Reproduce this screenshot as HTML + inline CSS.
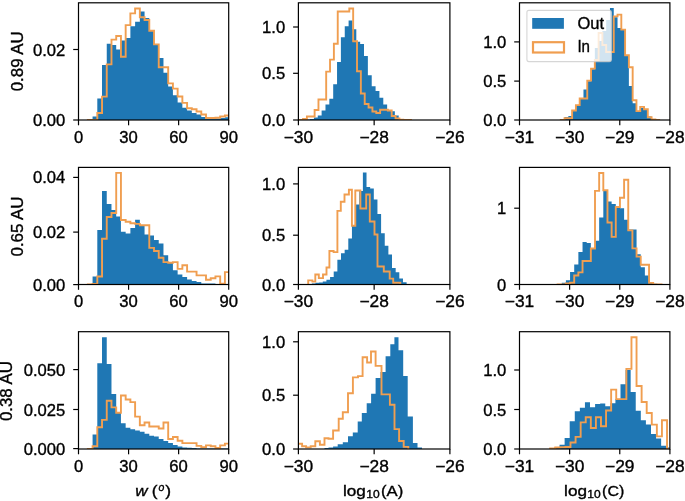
<!DOCTYPE html>
<html><head><meta charset="utf-8"><style>
html,body{margin:0;padding:0;background:#fff;overflow:hidden}
svg{display:block;will-change:transform}
text{font-family:"Liberation Sans", sans-serif;fill:#000;stroke:#000;stroke-width:0.35px}
</style></head><body>
<svg width="685" height="501" viewBox="0 0 685 501">
<rect width="685" height="501" fill="#fff"/>
<defs><clipPath id="c00"><rect x="78.5" y="2.8" width="150.20" height="117.20"/></clipPath><clipPath id="c01"><rect x="298.4" y="2.8" width="151.50" height="117.20"/></clipPath><clipPath id="c02"><rect x="519.5" y="2.8" width="150.40" height="117.20"/></clipPath><clipPath id="c10"><rect x="78.5" y="167.4" width="150.20" height="117.10"/></clipPath><clipPath id="c11"><rect x="298.4" y="167.4" width="151.50" height="117.10"/></clipPath><clipPath id="c12"><rect x="519.5" y="167.4" width="150.40" height="117.10"/></clipPath><clipPath id="c20"><rect x="78.5" y="331.7" width="150.20" height="117.30"/></clipPath><clipPath id="c21"><rect x="298.4" y="331.7" width="151.50" height="117.30"/></clipPath><clipPath id="c22"><rect x="519.5" y="331.7" width="150.40" height="117.30"/></clipPath></defs>
<g clip-path="url(#c00)"><path d="M87.85 121V119.2H92.58V121ZM92.58 121V116.4H97.3V121ZM97.3 121V98.6H102.03V121ZM102.03 121V64.9H106.75V121ZM106.75 121V43.8H111.48V121ZM111.48 121V45H116.21V121ZM116.21 121V49.6H120.93V121ZM120.93 121V40.6H125.66V121ZM125.66 121V38H130.38V121ZM130.38 121V26.2H135.11V121ZM135.11 121V21.7H139.84V121ZM139.84 121V11.5H144.56V121ZM144.56 121V18H149.29V121ZM149.29 121V30.8H154.01V121ZM154.01 121V44.5H158.74V121ZM158.74 121V58H163.47V121ZM163.47 121V72.7H168.19V121ZM168.19 121V86.5H172.92V121ZM172.92 121V95.3H177.64V121ZM177.64 121V102.6H182.37V121ZM182.37 121V107.7H187.1V121ZM187.1 121V110.6H191.82V121ZM191.82 121V113.1H196.55V121ZM196.55 121V114.4H201.27V121ZM201.27 121V116.9H206V121ZM206 121V118.6H210.73V121ZM210.73 121V118.6H215.45V121ZM215.45 121V118.6H220.18V121ZM220.18 121V118.1H224.9V121ZM224.9 121V117.3H229.63V121Z" fill="#1f77b4"/><path d="M87.85 121V120H92.58V120H97.3V113H102.03V96.6H106.75V64.4H111.48V39.6H116.21V36H120.93V56.8H125.66V25.1H130.38V13.4H135.11V8.5H139.84V17.2H144.56V20H149.29V30.7H154.01V44.4H158.74V67.2H163.47V67.2H168.19V83.4H172.92V88.6H177.64V96.5H182.37V102.9H187.1V108.3H191.82V109.3H196.55V111.5H201.27V114.5H206V118H210.73V118H215.45V117.7H220.18V116.5H224.9V115.5H229.63V121" fill="none" stroke="#f09e50" stroke-width="1.9" stroke-linejoin="miter"/></g>
<rect x="78.5" y="2.8" width="150.20" height="117.20" fill="none" stroke="#000" stroke-width="1.2"/>
<line x1="78.50" y1="120.0" x2="78.50" y2="125.30" stroke="#000" stroke-width="1.2"/>
<text x="78.50" y="142.80" font-size="16.0" text-anchor="middle" textLength="9.2" lengthAdjust="spacingAndGlyphs">0</text>
<line x1="128.57" y1="120.0" x2="128.57" y2="125.30" stroke="#000" stroke-width="1.2"/>
<text x="128.57" y="142.80" font-size="16.0" text-anchor="middle" textLength="18.5" lengthAdjust="spacingAndGlyphs">30</text>
<line x1="178.63" y1="120.0" x2="178.63" y2="125.30" stroke="#000" stroke-width="1.2"/>
<text x="178.63" y="142.80" font-size="16.0" text-anchor="middle" textLength="18.5" lengthAdjust="spacingAndGlyphs">60</text>
<line x1="228.70" y1="120.0" x2="228.70" y2="125.30" stroke="#000" stroke-width="1.2"/>
<text x="228.70" y="142.80" font-size="16.0" text-anchor="middle" textLength="18.5" lengthAdjust="spacingAndGlyphs">90</text>
<line x1="73.20" y1="120.00" x2="78.5" y2="120.00" stroke="#000" stroke-width="1.2"/>
<text x="65.30" y="126.00" font-size="16.0" text-anchor="end" textLength="32.3" lengthAdjust="spacingAndGlyphs">0.00</text>
<line x1="73.20" y1="49.50" x2="78.5" y2="49.50" stroke="#000" stroke-width="1.2"/>
<text x="65.30" y="55.50" font-size="16.0" text-anchor="end" textLength="32.3" lengthAdjust="spacingAndGlyphs">0.02</text>
<g clip-path="url(#c01)"><path d="M306.21 121V119.5H310.06V121ZM310.06 121V119H313.92V121ZM313.92 121V117.5H317.77V121ZM317.77 121V115.5H321.62V121ZM321.62 121V110.5H325.48V121ZM325.48 121V104.5H329.33V121ZM329.33 121V98.8H333.19V121ZM333.19 121V84.2H337.04V121ZM337.04 121V61.9H340.89V121ZM340.89 121V37.2H344.75V121ZM344.75 121V26.2H348.6V121ZM348.6 121V20.5H352.46V121ZM352.46 121V29.2H356.31V121ZM356.31 121V41.8H360.16V121ZM360.16 121V44.1H364.02V121ZM364.02 121V56.1H367.87V121ZM367.87 121V75.2H371.73V121ZM371.73 121V86.3H375.58V121ZM375.58 121V91H379.43V121ZM379.43 121V97.8H383.29V121ZM383.29 121V104.5H387.14V121ZM387.14 121V110H391V121ZM391 121V111.2H394.85V121ZM394.85 121V115.5H398.7V121ZM398.7 121V119H402.56V121ZM402.56 121V119.8H406.41V121Z" fill="#1f77b4"/><path d="M299.2 121V120H303.05V119H306.91V116.5H310.76V116.5H314.62V110H318.47V99.5H322.32V99.5H326.18V71.6H330.03V59.6H333.89V43.8H337.74V11.5H341.59V11.5H345.45V11.5H349.3V8.5H353.16V41.2H357.01V71.3H360.86V93.5H364.72V104H368.57V107.5H372.43V111.5H376.28V113H380.13V109.8H383.99V109.8H387.84V110.5H391.7V116H395.55V118.5H399.4V119.8H403.26V120H407.11V120H410.97V121" fill="none" stroke="#f09e50" stroke-width="1.9" stroke-linejoin="miter"/></g>
<rect x="298.4" y="2.8" width="151.50" height="117.20" fill="none" stroke="#000" stroke-width="1.2"/>
<line x1="298.40" y1="120.0" x2="298.40" y2="125.30" stroke="#000" stroke-width="1.2"/>
<text x="298.40" y="142.80" font-size="16.0" text-anchor="middle" textLength="29.4" lengthAdjust="spacingAndGlyphs">−30</text>
<line x1="374.15" y1="120.0" x2="374.15" y2="125.30" stroke="#000" stroke-width="1.2"/>
<text x="374.15" y="142.80" font-size="16.0" text-anchor="middle" textLength="29.4" lengthAdjust="spacingAndGlyphs">−28</text>
<line x1="449.90" y1="120.0" x2="449.90" y2="125.30" stroke="#000" stroke-width="1.2"/>
<text x="449.90" y="142.80" font-size="16.0" text-anchor="middle" textLength="29.4" lengthAdjust="spacingAndGlyphs">−26</text>
<line x1="293.10" y1="120.00" x2="298.4" y2="120.00" stroke="#000" stroke-width="1.2"/>
<text x="285.20" y="126.00" font-size="16.0" text-anchor="end" textLength="23.1" lengthAdjust="spacingAndGlyphs">0.0</text>
<line x1="293.10" y1="73.30" x2="298.4" y2="73.30" stroke="#000" stroke-width="1.2"/>
<text x="285.20" y="79.30" font-size="16.0" text-anchor="end" textLength="23.1" lengthAdjust="spacingAndGlyphs">0.5</text>
<line x1="293.10" y1="27.00" x2="298.4" y2="27.00" stroke="#000" stroke-width="1.2"/>
<text x="285.20" y="33.00" font-size="16.0" text-anchor="end" textLength="23.1" lengthAdjust="spacingAndGlyphs">1.0</text>
<g clip-path="url(#c02)"><path d="M560.77 121V119.5H564.55V121ZM564.55 121V117.1H568.34V121ZM568.34 121V116H572.12V121ZM572.12 121V111H575.91V121ZM575.91 121V105.7H579.69V121ZM579.69 121V99.1H583.47V121ZM583.47 121V89.5H587.26V121ZM587.26 121V81.2H591.04V121ZM591.04 121V69.2H594.83V121ZM594.83 121V48H598.61V121ZM598.61 121V41H602.39V121ZM602.39 121V31H606.18V121ZM606.18 121V20H609.96V121ZM609.96 121V8H613.75V121ZM613.75 121V17.2H617.53V121ZM617.53 121V28H621.31V121ZM621.31 121V29.8H625.1V121ZM625.1 121V55.5H628.88V121ZM628.88 121V86H632.67V121ZM632.67 121V103.3H636.45V121ZM636.45 121V111.3H640.23V121ZM640.23 121V108.1H644.02V121ZM644.02 121V109.3H647.8V121ZM647.8 121V116.5H651.59V121ZM651.59 121V119.5H655.37V121Z" fill="#1f77b4"/><path d="M560.77 121V120H564.55V118.3H568.34V118.3H572.12V110.5H575.91V105.1H579.69V98.5H583.47V98.5H587.26V80.6H591.04V68.6H594.83V60H598.61V33H602.39V45H606.18V52H609.96V52H613.75V16.4H617.53V14.6H621.31V29.6H625.1V55.3H628.88V67.2H632.67V100.3H636.45V111.1H640.23V106.9H644.02V109.3H647.8V117.3H651.59V119.5H655.37V120H659.15V121" fill="none" stroke="#f09e50" stroke-width="1.9" stroke-linejoin="miter"/></g>
<rect x="526.9" y="10.4" width="84.5" height="51.2" rx="2" ry="2" fill="#fff" fill-opacity="0.8" stroke="#ccc" stroke-opacity="0.8" stroke-width="1.1"/>
<rect x="532.2" y="18.0" width="31.7" height="10.8" fill="#1f77b4"/>
<rect x="533.0" y="42.2" width="31.0" height="10.3" fill="none" stroke="#f09e50" stroke-width="2.2"/>
<text x="577.4" y="29.2" font-size="16" textLength="26.6" lengthAdjust="spacingAndGlyphs">Out</text>
<text x="577.4" y="52.2" font-size="16" textLength="12.6" lengthAdjust="spacingAndGlyphs">In</text>
<rect x="519.5" y="2.8" width="150.40" height="117.20" fill="none" stroke="#000" stroke-width="1.2"/>
<line x1="519.50" y1="120.0" x2="519.50" y2="125.30" stroke="#000" stroke-width="1.2"/>
<text x="519.50" y="142.80" font-size="16.0" text-anchor="middle" textLength="29.4" lengthAdjust="spacingAndGlyphs">−31</text>
<line x1="569.63" y1="120.0" x2="569.63" y2="125.30" stroke="#000" stroke-width="1.2"/>
<text x="569.63" y="142.80" font-size="16.0" text-anchor="middle" textLength="29.4" lengthAdjust="spacingAndGlyphs">−30</text>
<line x1="619.77" y1="120.0" x2="619.77" y2="125.30" stroke="#000" stroke-width="1.2"/>
<text x="619.77" y="142.80" font-size="16.0" text-anchor="middle" textLength="29.4" lengthAdjust="spacingAndGlyphs">−29</text>
<line x1="669.90" y1="120.0" x2="669.90" y2="125.30" stroke="#000" stroke-width="1.2"/>
<text x="669.90" y="142.80" font-size="16.0" text-anchor="middle" textLength="29.4" lengthAdjust="spacingAndGlyphs">−28</text>
<line x1="514.20" y1="120.00" x2="519.5" y2="120.00" stroke="#000" stroke-width="1.2"/>
<text x="506.30" y="126.00" font-size="16.0" text-anchor="end" textLength="23.1" lengthAdjust="spacingAndGlyphs">0.0</text>
<line x1="514.20" y1="81.10" x2="519.5" y2="81.10" stroke="#000" stroke-width="1.2"/>
<text x="506.30" y="87.10" font-size="16.0" text-anchor="end" textLength="23.1" lengthAdjust="spacingAndGlyphs">0.5</text>
<line x1="514.20" y1="41.90" x2="519.5" y2="41.90" stroke="#000" stroke-width="1.2"/>
<text x="506.30" y="47.90" font-size="16.0" text-anchor="end" textLength="23.1" lengthAdjust="spacingAndGlyphs">1.0</text>
<g clip-path="url(#c10)"><path d="M92.58 285.5V276.5H97.3V285.5ZM97.3 285.5V230H102.03V285.5ZM102.03 285.5V191H106.75V285.5ZM106.75 285.5V204H111.48V285.5ZM111.48 285.5V210H116.21V285.5ZM116.21 285.5V216.5H120.93V285.5ZM120.93 285.5V231.8H125.66V285.5ZM125.66 285.5V233.4H130.38V285.5ZM130.38 285.5V228.1H135.11V285.5ZM135.11 285.5V219.7H139.84V285.5ZM139.84 285.5V225.5H144.56V285.5ZM144.56 285.5V234.5H149.29V285.5ZM149.29 285.5V235.6H154.01V285.5ZM154.01 285.5V239.9H158.74V285.5ZM158.74 285.5V243.6H163.47V285.5ZM163.47 285.5V255.3H168.19V285.5ZM168.19 285.5V262.5H172.92V285.5ZM172.92 285.5V270.2H177.64V285.5ZM177.64 285.5V274.5H182.37V285.5ZM182.37 285.5V277H187.1V285.5ZM187.1 285.5V279.6H191.82V285.5ZM191.82 285.5V280.9H196.55V285.5ZM196.55 285.5V282.1H201.27V285.5ZM201.27 285.5V283.6H206V285.5ZM206 285.5V283.6H210.73V285.5ZM210.73 285.5V283.6H215.45V285.5ZM215.45 285.5V284.2H220.18V285.5ZM220.18 285.5V284.2H224.9V285.5ZM224.9 285.5V284.2H229.63V285.5Z" fill="#1f77b4"/><path d="M87.85 285.5V284.5H92.58V284H97.3V276.5H102.03V238.8H106.75V217H111.48V213H116.21V172.9H120.93V220H125.66V221.8H130.38V223.2H135.11V223.9H139.84V225.3H144.56V225.3H149.29V247.9H154.01V251H158.74V257.8H163.47V262.1H168.19V262.7H172.92V262.1H177.64V268.9H182.37V265.2H187.1V271.6H191.82V271.6H196.55V275.4H201.27V275.4H206V279.8H210.73V278.3H215.45V276.4H220.18V283.6H224.9V272.1H229.63V285.5" fill="none" stroke="#f09e50" stroke-width="1.9" stroke-linejoin="miter"/></g>
<rect x="78.5" y="167.4" width="150.20" height="117.10" fill="none" stroke="#000" stroke-width="1.2"/>
<line x1="78.50" y1="284.5" x2="78.50" y2="289.80" stroke="#000" stroke-width="1.2"/>
<text x="78.50" y="307.30" font-size="16.0" text-anchor="middle" textLength="9.2" lengthAdjust="spacingAndGlyphs">0</text>
<line x1="128.57" y1="284.5" x2="128.57" y2="289.80" stroke="#000" stroke-width="1.2"/>
<text x="128.57" y="307.30" font-size="16.0" text-anchor="middle" textLength="18.5" lengthAdjust="spacingAndGlyphs">30</text>
<line x1="178.63" y1="284.5" x2="178.63" y2="289.80" stroke="#000" stroke-width="1.2"/>
<text x="178.63" y="307.30" font-size="16.0" text-anchor="middle" textLength="18.5" lengthAdjust="spacingAndGlyphs">60</text>
<line x1="228.70" y1="284.5" x2="228.70" y2="289.80" stroke="#000" stroke-width="1.2"/>
<text x="228.70" y="307.30" font-size="16.0" text-anchor="middle" textLength="18.5" lengthAdjust="spacingAndGlyphs">90</text>
<line x1="73.20" y1="284.60" x2="78.5" y2="284.60" stroke="#000" stroke-width="1.2"/>
<text x="65.30" y="290.60" font-size="16.0" text-anchor="end" textLength="32.3" lengthAdjust="spacingAndGlyphs">0.00</text>
<line x1="73.20" y1="232.10" x2="78.5" y2="232.10" stroke="#000" stroke-width="1.2"/>
<text x="65.30" y="238.10" font-size="16.0" text-anchor="end" textLength="32.3" lengthAdjust="spacingAndGlyphs">0.02</text>
<line x1="73.20" y1="177.40" x2="78.5" y2="177.40" stroke="#000" stroke-width="1.2"/>
<text x="65.30" y="183.40" font-size="16.0" text-anchor="end" textLength="32.3" lengthAdjust="spacingAndGlyphs">0.04</text>
<g clip-path="url(#c11)"><path d="M308.2 285.5V284H311.84V285.5ZM311.84 285.5V283.5H315.49V285.5ZM315.49 285.5V282.8H319.13V285.5ZM319.13 285.5V282.5H322.78V285.5ZM322.78 285.5V281.6H326.43V285.5ZM326.43 285.5V279.8H330.07V285.5ZM330.07 285.5V276.9H333.71V285.5ZM333.71 285.5V271.6H337.36V285.5ZM337.36 285.5V259.8H341V285.5ZM341 285.5V253.3H344.65V285.5ZM344.65 285.5V249.8H348.29V285.5ZM348.29 285.5V238.6H351.94V285.5ZM351.94 285.5V226H355.58V285.5ZM355.58 285.5V204.5H359.23V285.5ZM359.23 285.5V191H362.88V285.5ZM362.88 285.5V172.5H366.52V285.5ZM366.52 285.5V187H370.16V285.5ZM370.16 285.5V188.5H373.81V285.5ZM373.81 285.5V199.5H377.45V285.5ZM377.45 285.5V214H381.1V285.5ZM381.1 285.5V233.3H384.75V285.5ZM384.75 285.5V245.7H388.39V285.5ZM388.39 285.5V254.5H392.03V285.5ZM392.03 285.5V268H395.68V285.5ZM395.68 285.5V272.2H399.32V285.5ZM399.32 285.5V278.6H402.97V285.5ZM402.97 285.5V282.2H406.62V285.5ZM406.62 285.5V284H410.26V285.5Z" fill="#1f77b4"/><path d="M308.2 285.5V280.4H312.4V281.6H315.3V274.5H318.8V278.1H323V274.5H326.5V267.5H329.4V251H333.6V252.1H337.4V210.9H340.8V201.8H344.5V194.5H348.9V189.8H351.9V225.7H355.3V190.5H360.4V208.5H366.2V194.5H369.8V221.5H374.5V234.5H377.5V266.5H383.8V271.5H389.7V278.6H393.2V282.8H400.3V285.5" fill="none" stroke="#f09e50" stroke-width="1.9" stroke-linejoin="miter"/></g>
<rect x="298.4" y="167.4" width="151.50" height="117.10" fill="none" stroke="#000" stroke-width="1.2"/>
<line x1="298.40" y1="284.5" x2="298.40" y2="289.80" stroke="#000" stroke-width="1.2"/>
<text x="298.40" y="307.30" font-size="16.0" text-anchor="middle" textLength="29.4" lengthAdjust="spacingAndGlyphs">−30</text>
<line x1="374.15" y1="284.5" x2="374.15" y2="289.80" stroke="#000" stroke-width="1.2"/>
<text x="374.15" y="307.30" font-size="16.0" text-anchor="middle" textLength="29.4" lengthAdjust="spacingAndGlyphs">−28</text>
<line x1="449.90" y1="284.5" x2="449.90" y2="289.80" stroke="#000" stroke-width="1.2"/>
<text x="449.90" y="307.30" font-size="16.0" text-anchor="middle" textLength="29.4" lengthAdjust="spacingAndGlyphs">−26</text>
<line x1="293.10" y1="284.50" x2="298.4" y2="284.50" stroke="#000" stroke-width="1.2"/>
<text x="285.20" y="290.50" font-size="16.0" text-anchor="end" textLength="23.1" lengthAdjust="spacingAndGlyphs">0.0</text>
<line x1="293.10" y1="235.20" x2="298.4" y2="235.20" stroke="#000" stroke-width="1.2"/>
<text x="285.20" y="241.20" font-size="16.0" text-anchor="end" textLength="23.1" lengthAdjust="spacingAndGlyphs">0.5</text>
<line x1="293.10" y1="183.90" x2="298.4" y2="183.90" stroke="#000" stroke-width="1.2"/>
<text x="285.20" y="189.90" font-size="16.0" text-anchor="end" textLength="23.1" lengthAdjust="spacingAndGlyphs">1.0</text>
<g clip-path="url(#c12)"><path d="M557.59 285.5V284H561.74V285.5ZM561.74 285.5V282.8H565.9V285.5ZM565.9 285.5V280.2H570.06V285.5ZM570.06 285.5V271.9H574.21V285.5ZM574.21 285.5V264.6H578.37V285.5ZM578.37 285.5V252.1H582.53V285.5ZM582.53 285.5V242.1H586.69V285.5ZM586.69 285.5V243.1H590.84V285.5ZM590.84 285.5V248.5H595V285.5ZM595 285.5V240.7H599.16V285.5ZM599.16 285.5V217.5H603.31V285.5ZM603.31 285.5V190.3H607.47V285.5ZM607.47 285.5V201.4H611.63V285.5ZM611.63 285.5V203.9H615.78V285.5ZM615.78 285.5V208H619.94V285.5ZM619.94 285.5V208.3H624.1V285.5ZM624.1 285.5V219.8H628.25V285.5ZM628.25 285.5V229.5H632.41V285.5ZM632.41 285.5V229.6H636.57V285.5ZM636.57 285.5V254.2H640.73V285.5ZM640.73 285.5V267.3H644.88V285.5ZM644.88 285.5V275.5H649.04V285.5ZM649.04 285.5V282H653.2V285.5ZM653.2 285.5V283.7H657.35V285.5Z" fill="#1f77b4"/><path d="M557.59 285.5V284.5H561.74V284.5H565.9V283.5H570.06V282.8H574.21V275.5H578.37V272.4H582.53V261H586.69V261H590.84V248.5H595V190.9H599.16V173H603.31V190.3H607.47V222.5H611.63V236.9H615.78V207H619.94V197.7H624.1V179.8H628.25V230.4H632.41V248.4H636.57V256.6H640.73V264.8H644.88V264.8H649.04V282.9H653.2V284.5H657.35V284.5H661.51V285.5" fill="none" stroke="#f09e50" stroke-width="1.9" stroke-linejoin="miter"/></g>
<rect x="519.5" y="167.4" width="150.40" height="117.10" fill="none" stroke="#000" stroke-width="1.2"/>
<line x1="519.50" y1="284.5" x2="519.50" y2="289.80" stroke="#000" stroke-width="1.2"/>
<text x="519.50" y="307.30" font-size="16.0" text-anchor="middle" textLength="29.4" lengthAdjust="spacingAndGlyphs">−31</text>
<line x1="569.63" y1="284.5" x2="569.63" y2="289.80" stroke="#000" stroke-width="1.2"/>
<text x="569.63" y="307.30" font-size="16.0" text-anchor="middle" textLength="29.4" lengthAdjust="spacingAndGlyphs">−30</text>
<line x1="619.77" y1="284.5" x2="619.77" y2="289.80" stroke="#000" stroke-width="1.2"/>
<text x="619.77" y="307.30" font-size="16.0" text-anchor="middle" textLength="29.4" lengthAdjust="spacingAndGlyphs">−29</text>
<line x1="669.90" y1="284.5" x2="669.90" y2="289.80" stroke="#000" stroke-width="1.2"/>
<text x="669.90" y="307.30" font-size="16.0" text-anchor="middle" textLength="29.4" lengthAdjust="spacingAndGlyphs">−28</text>
<line x1="514.20" y1="284.50" x2="519.5" y2="284.50" stroke="#000" stroke-width="1.2"/>
<text x="506.30" y="290.50" font-size="16.0" text-anchor="end" textLength="9.2" lengthAdjust="spacingAndGlyphs">0</text>
<line x1="514.20" y1="208.20" x2="519.5" y2="208.20" stroke="#000" stroke-width="1.2"/>
<text x="506.30" y="214.20" font-size="16.0" text-anchor="end" textLength="9.2" lengthAdjust="spacingAndGlyphs">1</text>
<g clip-path="url(#c20)"><path d="M92.58 450V434.4H97.3V450ZM97.3 450V363.2H102.03V450ZM102.03 450V337.2H106.75V450ZM106.75 450V363.9H111.48V450ZM111.48 450V394H116.21V450ZM116.21 450V412.7H120.93V450ZM120.93 450V423.2H125.66V450ZM125.66 450V427.8H130.38V450ZM130.38 450V429.3H135.11V450ZM135.11 450V430.5H139.84V450ZM139.84 450V431.8H144.56V450ZM144.56 450V433.7H149.29V450ZM149.29 450V435.7H154.01V450ZM154.01 450V436.4H158.74V450ZM158.74 450V439H163.47V450ZM163.47 450V441H168.19V450ZM168.19 450V443H172.92V450ZM172.92 450V445H177.64V450ZM177.64 450V446.5H182.37V450ZM182.37 450V447.5H187.1V450ZM187.1 450V447.7H191.82V450ZM191.82 450V447.9H196.55V450ZM196.55 450V448.4H201.27V450ZM201.27 450V448.4H206V450ZM206 450V448.4H210.73V450ZM210.73 450V448.4H215.45V450ZM215.45 450V448.4H220.18V450ZM220.18 450V448.4H224.9V450ZM224.9 450V448.4H229.63V450Z" fill="#1f77b4"/><path d="M87.85 450V449H92.58V446.3H97.3V427.2H102.03V419.9H106.75V400.8H111.48V407.4H116.21V412.7H120.93V395.5H125.66V399.5H130.38V402.1H135.11V416.6H139.84V425.2H144.56V422.5H149.29V426.5H154.01V426.5H158.74V428.5H163.47V422.5H168.19V439H172.92V437H177.64V440.8H182.37V443.1H187.1V443.1H191.82V443.1H196.55V445.9H201.27V447.2H206V445.4H210.73V446.3H215.45V448H220.18V445.4H224.9V443.6H229.63V450" fill="none" stroke="#f09e50" stroke-width="1.9" stroke-linejoin="miter"/></g>
<rect x="78.5" y="331.7" width="150.20" height="117.30" fill="none" stroke="#000" stroke-width="1.2"/>
<line x1="78.50" y1="449.0" x2="78.50" y2="454.30" stroke="#000" stroke-width="1.2"/>
<text x="78.50" y="471.80" font-size="16.0" text-anchor="middle" textLength="9.2" lengthAdjust="spacingAndGlyphs">0</text>
<line x1="128.57" y1="449.0" x2="128.57" y2="454.30" stroke="#000" stroke-width="1.2"/>
<text x="128.57" y="471.80" font-size="16.0" text-anchor="middle" textLength="18.5" lengthAdjust="spacingAndGlyphs">30</text>
<line x1="178.63" y1="449.0" x2="178.63" y2="454.30" stroke="#000" stroke-width="1.2"/>
<text x="178.63" y="471.80" font-size="16.0" text-anchor="middle" textLength="18.5" lengthAdjust="spacingAndGlyphs">60</text>
<line x1="228.70" y1="449.0" x2="228.70" y2="454.30" stroke="#000" stroke-width="1.2"/>
<text x="228.70" y="471.80" font-size="16.0" text-anchor="middle" textLength="18.5" lengthAdjust="spacingAndGlyphs">90</text>
<line x1="73.20" y1="448.60" x2="78.5" y2="448.60" stroke="#000" stroke-width="1.2"/>
<text x="65.30" y="454.60" font-size="16.0" text-anchor="end" textLength="41.5" lengthAdjust="spacingAndGlyphs">0.000</text>
<line x1="73.20" y1="409.50" x2="78.5" y2="409.50" stroke="#000" stroke-width="1.2"/>
<text x="65.30" y="415.50" font-size="16.0" text-anchor="end" textLength="41.5" lengthAdjust="spacingAndGlyphs">0.025</text>
<line x1="73.20" y1="369.60" x2="78.5" y2="369.60" stroke="#000" stroke-width="1.2"/>
<text x="65.30" y="375.60" font-size="16.0" text-anchor="end" textLength="41.5" lengthAdjust="spacingAndGlyphs">0.050</text>
<g clip-path="url(#c21)"><path d="M324.5 450V448H328.5V450ZM328.5 450V447.4H333.1V450ZM333.1 450V446.5H337.7V450ZM337.7 450V444.3H342.8V450ZM342.8 450V442.3H348V450ZM348 450V436.2H352.8V450ZM352.8 450V432.5H357.7V450ZM357.7 450V421.6H361.8V450ZM361.8 450V413H366.7V450ZM366.7 450V403.3H371.1V450ZM371.1 450V393.7H375.6V450ZM375.6 450V378.1H380.5V450ZM380.5 450V372H385.6V450ZM385.6 450V356.2H390.3V450ZM390.3 450V344.2H394.4V450ZM394.4 450V337.2H398.5V450ZM398.5 450V350.3H403.2V450ZM403.2 450V376.1H407.7V450ZM407.7 450V416.6H412.9V450ZM412.9 450V443H417.5V450ZM417.5 450V447.6H422V450Z" fill="#1f77b4"/><path d="M296 450V443.8H302.1V446.3H306.1V447.4H310.7V446.3H315.3V441.2H319.9V444.8H324.5V438.2H328.5V438.7H333.1V430.5H338.7V418.8H342.8V412.2H348V393.2H352.9V377.4H358V376.1H362.6V357.3H367.1V362.5H371V351.5H375.6V365.9H381.5V394.4H389.9V404.8H394.5V429.1H399.1V441H403.7V446.9H408.3V450" fill="none" stroke="#f09e50" stroke-width="1.9" stroke-linejoin="miter"/></g>
<rect x="298.4" y="331.7" width="151.50" height="117.30" fill="none" stroke="#000" stroke-width="1.2"/>
<line x1="298.40" y1="449.0" x2="298.40" y2="454.30" stroke="#000" stroke-width="1.2"/>
<text x="298.40" y="471.80" font-size="16.0" text-anchor="middle" textLength="29.4" lengthAdjust="spacingAndGlyphs">−30</text>
<line x1="374.15" y1="449.0" x2="374.15" y2="454.30" stroke="#000" stroke-width="1.2"/>
<text x="374.15" y="471.80" font-size="16.0" text-anchor="middle" textLength="29.4" lengthAdjust="spacingAndGlyphs">−28</text>
<line x1="449.90" y1="449.0" x2="449.90" y2="454.30" stroke="#000" stroke-width="1.2"/>
<text x="449.90" y="471.80" font-size="16.0" text-anchor="middle" textLength="29.4" lengthAdjust="spacingAndGlyphs">−26</text>
<line x1="293.10" y1="449.00" x2="298.4" y2="449.00" stroke="#000" stroke-width="1.2"/>
<text x="285.20" y="455.00" font-size="16.0" text-anchor="end" textLength="23.1" lengthAdjust="spacingAndGlyphs">0.0</text>
<line x1="293.10" y1="395.20" x2="298.4" y2="395.20" stroke="#000" stroke-width="1.2"/>
<text x="285.20" y="401.20" font-size="16.0" text-anchor="end" textLength="23.1" lengthAdjust="spacingAndGlyphs">0.5</text>
<line x1="293.10" y1="341.80" x2="298.4" y2="341.80" stroke="#000" stroke-width="1.2"/>
<text x="285.20" y="347.80" font-size="16.0" text-anchor="end" textLength="23.1" lengthAdjust="spacingAndGlyphs">1.0</text>
<g clip-path="url(#c22)"><path d="M549.38 450V448.5H554.46V450ZM554.46 450V447.5H559.54V450ZM559.54 450V444.7H564.62V450ZM564.62 450V438H569.7V450ZM569.7 450V421.3H574.78V450ZM574.78 450V411.2H579.86V450ZM579.86 450V407.8H584.94V450ZM584.94 450V402.3H590.02V450ZM590.02 450V407.3H595.1V450ZM595.1 450V403.9H600.18V450ZM600.18 450V403.4H605.26V450ZM605.26 450V406.3H610.34V450ZM610.34 450V403.3H615.42V450ZM615.42 450V399.1H620.5V450ZM620.5 450V384.2H625.58V450ZM625.58 450V370H630.66V450ZM630.66 450V392H635.74V450ZM635.74 450V410.8H640.82V450ZM640.82 450V420.3H645.9V450ZM645.9 450V424.6H650.98V450ZM650.98 450V434.1H656.06V450ZM656.06 450V438.5H661.14V450ZM661.14 450V445.8H666.22V450ZM666.22 450V447.5H671.3V450Z" fill="#1f77b4"/><path d="M550.18 450V448.5H555.26V447.5H560.34V447.3H565.42V447H570.5V442.5H575.58V436.9H580.66V422.4H585.74V417.3H590.82V428H595.9V417.3H600.98V426.3H606.06V410.5H611.14V389.6H616.22V399.1H621.3V399.1H626.38V368.9H631.46V337.3H636.54V386H641.62V402H646.7V413H651.78V424.6H656.86V436.4H661.94V420.3H667.02V449H672.1V450" fill="none" stroke="#f09e50" stroke-width="1.9" stroke-linejoin="miter"/></g>
<rect x="519.5" y="331.7" width="150.40" height="117.30" fill="none" stroke="#000" stroke-width="1.2"/>
<line x1="519.50" y1="449.0" x2="519.50" y2="454.30" stroke="#000" stroke-width="1.2"/>
<text x="519.50" y="471.80" font-size="16.0" text-anchor="middle" textLength="29.4" lengthAdjust="spacingAndGlyphs">−31</text>
<line x1="569.63" y1="449.0" x2="569.63" y2="454.30" stroke="#000" stroke-width="1.2"/>
<text x="569.63" y="471.80" font-size="16.0" text-anchor="middle" textLength="29.4" lengthAdjust="spacingAndGlyphs">−30</text>
<line x1="619.77" y1="449.0" x2="619.77" y2="454.30" stroke="#000" stroke-width="1.2"/>
<text x="619.77" y="471.80" font-size="16.0" text-anchor="middle" textLength="29.4" lengthAdjust="spacingAndGlyphs">−29</text>
<line x1="669.90" y1="449.0" x2="669.90" y2="454.30" stroke="#000" stroke-width="1.2"/>
<text x="669.90" y="471.80" font-size="16.0" text-anchor="middle" textLength="29.4" lengthAdjust="spacingAndGlyphs">−28</text>
<line x1="514.20" y1="449.00" x2="519.5" y2="449.00" stroke="#000" stroke-width="1.2"/>
<text x="506.30" y="455.00" font-size="16.0" text-anchor="end" textLength="23.1" lengthAdjust="spacingAndGlyphs">0.0</text>
<line x1="514.20" y1="409.50" x2="519.5" y2="409.50" stroke="#000" stroke-width="1.2"/>
<text x="506.30" y="415.50" font-size="16.0" text-anchor="end" textLength="23.1" lengthAdjust="spacingAndGlyphs">0.5</text>
<line x1="514.20" y1="370.00" x2="519.5" y2="370.00" stroke="#000" stroke-width="1.2"/>
<text x="506.30" y="376.00" font-size="16.0" text-anchor="end" textLength="23.1" lengthAdjust="spacingAndGlyphs">1.0</text>
<text transform="translate(22.6,61.3) rotate(-90)" font-size="16" text-anchor="middle" textLength="60.0" lengthAdjust="spacingAndGlyphs">0.89 AU</text>
<text transform="translate(23.0,226.5) rotate(-90)" font-size="16" text-anchor="middle" textLength="60.0" lengthAdjust="spacingAndGlyphs">0.65 AU</text>
<text transform="translate(12.4,391.1) rotate(-90)" font-size="16" text-anchor="middle" textLength="60.0" lengthAdjust="spacingAndGlyphs">0.38 AU</text>
<text x="135.2" y="496.1" font-size="15" font-style="italic" textLength="12.3" lengthAdjust="spacingAndGlyphs">w</text>
<text x="151.7" y="496.1" font-size="15" textLength="5.8" lengthAdjust="spacingAndGlyphs">(</text>
<text x="158.6" y="490.6" font-size="10.5" font-style="italic">o</text>
<text x="165.2" y="496.1" font-size="15" textLength="5.8" lengthAdjust="spacingAndGlyphs">)</text>
<text x="343.0" y="495.6" font-size="15" textLength="22.9" lengthAdjust="spacingAndGlyphs">log</text>
<text x="366.2" y="498.3" font-size="10.5" textLength="13.4" lengthAdjust="spacingAndGlyphs">10</text>
<text x="381.0" y="495.6" font-size="15" textLength="22.2" lengthAdjust="spacingAndGlyphs">(A)</text>
<text x="564.1" y="495.6" font-size="15" textLength="22.9" lengthAdjust="spacingAndGlyphs">log</text>
<text x="587.3" y="498.3" font-size="10.5" textLength="13.4" lengthAdjust="spacingAndGlyphs">10</text>
<text x="602.1" y="495.6" font-size="15" textLength="22.2" lengthAdjust="spacingAndGlyphs">(C)</text>
</svg>
</body></html>
